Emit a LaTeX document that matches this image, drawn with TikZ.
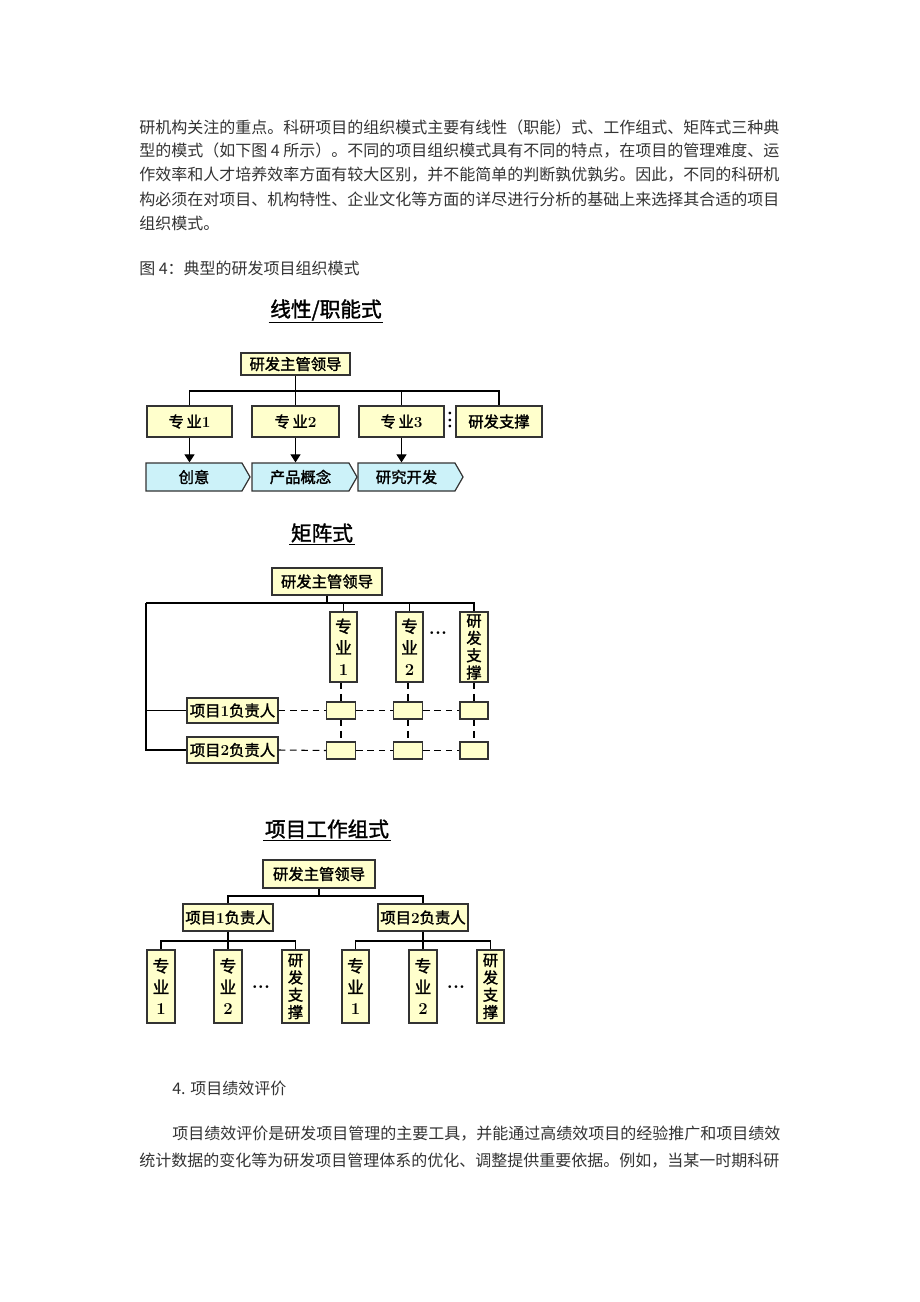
\documentclass[tikz,border=0pt]{standalone}
\usepackage{fontspec}
\newfontfamily\cjk{Noto Sans CJK SC}
\newfontfamily\cjkb[FakeBold=1.6]{Noto Sans CJK SC}
\usetikzlibrary{arrows.meta,shapes.symbols}
\definecolor{boxy}{HTML}{FFFFCC}
\definecolor{chevc}{HTML}{CCF2F9}
\definecolor{txt}{HTML}{333333}
\definecolor{edge}{HTML}{333333}
\newcommand\dg[1]{{\normalfont\bfseries #1}}
\begin{document}
\begin{tikzpicture}[x=0.75pt,y=-0.75pt,
  sz/.style args={#1/#2}{minimum width=#1*0.75pt, minimum height=#2*0.75pt},
  ybox/.style={draw=edge, line width=0.9pt, fill=boxy, inner sep=0pt, font=\cjkb\fontsize{11.5}{13}\selectfont},
  vbox/.style={ybox, align=center, font=\cjkb\fontsize{12.5}{16}\selectfont},
  vboxf/.style={ybox, align=center, font=\cjkb\fontsize{11.5}{13}\selectfont},
  chev/.style={shape=signal, signal to=east, signal from=nowhere, signal pointer angle=120, draw=edge, line width=0.9pt, fill=chevc, inner sep=0pt, font=\cjkb\fontsize{11.5}{13}\selectfont},
  conn/.style={draw=black, line width=0.8pt},
  dsh/.style={conn, dash pattern=on 5pt off 3.5pt},
  arr/.style={conn, -{Triangle[width=7.5pt,length=6pt]}},
  para/.style={anchor=west, inner sep=0pt, font=\cjk\fontsize{12}{14}\selectfont, text=txt},
  ttl/.style={font=\cjkb\fontsize{15.5}{18}\selectfont, inner sep=1pt},
  ellip/.style={font=\bfseries\Large, inner sep=0pt}
]
\path[use as bounding box, fill=white] (0,0) rectangle (920,1302);

% ---------- body text ----------
\node[para] (l1) at (139,127) {研机构关注的重点。科研项目的组织模式主要有线性（职能）式、工作组式、矩阵式三种典};
\node[para] (l2) at (139,151) {型的模式（如下图 4 所示）。不同的项目组织模式具有不同的特点，在项目的管理难度、运};
\node[para] (l3) at (139,175) {作效率和人才培养效率方面有较大区别，并不能简单的判断孰优孰劣。因此，不同的科研机};
\node[para] (l4) at (139,199) {构必须在对项目、机构特性、企业文化等方面的详尽进行分析的基础上来选择其合适的项目};
\node[para] (l5) at (139,223) {组织模式。};
\node[para] (cap) at (139,268) {图 4：典型的研发项目组织模式};

% ---------- linear / functional ----------
\node[ttl] (t1) at (326,310) {线性/职能式};
\draw[conn] (t1.south west) -- (t1.south east);
\node[ybox, sz=109/22] (a0) at (295.5,364) {研发主管领导};
\node[ybox, sz=85/31] (b1) at (189.5,421.5) {专\,业\dg{1}};
\node[ybox, sz=87/31] (b2) at (295.5,421.5) {专\,业\dg{2}};
\node[ybox, sz=85/31] (b3) at (401.5,421.5) {专\,业\dg{3}};
\node[ybox, sz=86/31] (b4) at (499,421.5) {研发支撑};
\node[ellip, rotate=90] (cl) at (450,420) {...};
\coordinate (h1) at (296,391);
\draw[conn] (a0.south) -- (a0.south |- h1);
\draw[conn] (b1.north) -- (b1.north |- h1) -- (b4.north |- h1) -- (b4.north);
\draw[conn] (b2.north) -- (b2.north |- h1);
\draw[conn] (b3.north) -- (b3.north |- h1);
\node[chev, sz=104/28] (c1) at (194,477) {创意};
\node[chev, sz=105/28] (c2) at (300.5,477) {产品概念};
\node[chev, sz=105/28] (c3) at (406.5,477) {研究开发};
\draw[arr] (b1.south) -- (b1.south |- c1.north);
\draw[arr] (b2.south) -- (b2.south |- c2.north);
\draw[arr] (b3.south) -- (b3.south |- c3.north);

% ---------- matrix ----------
\node[ttl] (t2) at (322,533) {矩阵式};
\draw[conn] (t2.south west) -- (t2.south east);
\node[ybox, sz=110/27] (m0) at (327,581.5) {研发主管领导};
\node[vbox, sz=27/70] (m1) at (343.5,647) {专\\业\\\dg{1}};
\node[vbox, sz=27/70] (m2) at (409.5,647) {专\\业\\\dg{2}};
\node[vboxf, sz=28/70] (m3) at (474,647) {研\\发\\支\\撑};
\node[ellip] (md) at (438,633) {...};
\node[ybox, sz=91/25] (r1) at (232.5,710.5) {项目\dg{1}负责人};
\node[ybox, sz=91/26] (r2) at (232.5,750) {项目\dg{2}负责人};
\node[ybox, sz=29/17] (s11) at (341,710.5) {};
\node[ybox, sz=29/17] (s12) at (408,710.5) {};
\node[ybox, sz=28/17] (s13) at (474,710.5) {};
\node[ybox, sz=29/17] (s21) at (341,750.5) {};
\node[ybox, sz=29/17] (s22) at (408,750.5) {};
\node[ybox, sz=28/17] (s23) at (474,750.5) {};
\coordinate (mh) at (146,603);
\draw[conn] (m0.south) -- (m0.south |- mh);
\draw[conn] (mh) -- (m3.north |- mh) -- (m3.north);
\draw[conn] (m1.north |- mh) -- (m1.north);
\draw[conn] (m2.north |- mh) -- (m2.north);
\draw[conn] (mh) |- (r2.west);
\draw[conn] (mh |- r1.west) -- (r1.west);
\draw[dsh] (r1.east) -- (s11.west);
\draw[dsh] (s11.east) -- (s12.west);
\draw[dsh] (s12.east) -- (s13.west);
\draw[dsh] (r2.east) -- (s21.west);
\draw[dsh] (s21.east) -- (s22.west);
\draw[dsh] (s22.east) -- (s23.west);
\draw[dsh] (m1.south -| s11.north) -- (s11.north);
\draw[dsh] (m2.south -| s12.north) -- (s12.north);
\draw[dsh] (m3.south) -- (s13.north);
\draw[dsh] (s11.south) -- (s21.north);
\draw[dsh] (s12.south) -- (s22.north);
\draw[dsh] (s13.south) -- (s23.north);

% ---------- project work group ----------
\node[ttl] (t3) at (327,829) {项目工作组式};
\draw[conn] (t3.south west) -- (t3.south east);
\node[ybox, sz=112/28] (w0) at (319,874) {研发主管领导};
\node[ybox, sz=90/27] (p1) at (228,917.5) {项目\dg{1}负责人};
\node[ybox, sz=90/27] (p2) at (423,917.5) {项目\dg{2}负责人};
\node[vbox, sz=28/73] (e11) at (161,986.5) {专\\业\\\dg{1}};
\node[vbox, sz=28/73] (e12) at (228,986.5) {专\\业\\\dg{2}};
\node[vboxf, sz=27/73] (e13) at (295.5,986.5) {研\\发\\支\\撑};
\node[vbox, sz=27/73] (e21) at (355.5,986.5) {专\\业\\\dg{1}};
\node[vbox, sz=28/73] (e22) at (423,986.5) {专\\业\\\dg{2}};
\node[vboxf, sz=27/73] (e23) at (490.5,986.5) {研\\发\\支\\撑};
\node[ellip] (wd1) at (261,987) {...};
\node[ellip] (wd2) at (456,987) {...};
\coordinate (wh) at (319,896);
\draw[conn] (w0.south) -- (wh);
\draw[conn] (p1.north) -- (p1.north |- wh) -- (p2.north |- wh) -- (p2.north);
\coordinate (g1) at (228,941);
\coordinate (g2) at (423,941);
\draw[conn] (p1.south) -- (g1);
\draw[conn] (p2.south) -- (g2);
\draw[conn] (e11.north) -- (e11.north |- g1) -- (e13.north |- g1) -- (e13.north);
\draw[conn] (e12.north) -- (e12.north |- g1);
\draw[conn] (e21.north) -- (e21.north |- g2) -- (e23.north |- g2) -- (e23.north);
\draw[conn] (e22.north) -- (e22.north |- g2);

% ---------- following text ----------
\node[para] (s4) at (172,1088) {4. 项目绩效评价};
\node[para] (q1) at (172,1134) {项目绩效评价是研发项目管理的主要工具，并能通过高绩效项目的经验推广和项目绩效};
\node[para] (q2) at (139,1161) {统计数据的变化等为研发项目管理体系的优化、调整提供重要依据。例如，当某一时期科研};
\end{tikzpicture}
\end{document}
